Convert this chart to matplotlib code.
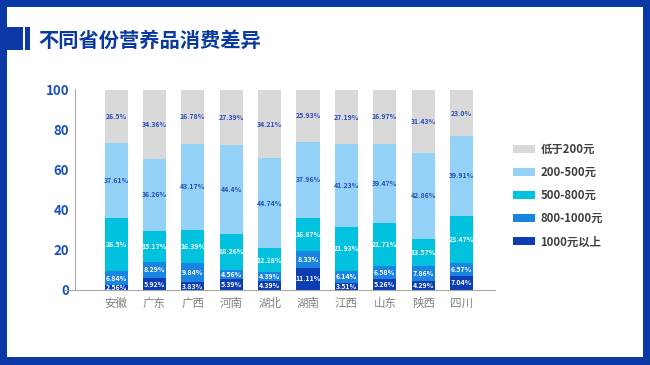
"""
Stacked percentage bars: consumption differences by province
"""

import matplotlib

matplotlib.use("Agg")
import matplotlib.pyplot as plt
from matplotlib.patches import Rectangle
import numpy as np

plt.rcParams["font.family"] = ["Noto Sans CJK SC", "DejaVu Sans"]

provinces = ["安徽", "广东", "广西", "河南", "湖北", "湖南", "江西", "山东", "陕西", "四川"]

# bottom to top
above_1000 = [2.56, 5.92, 3.83, 5.39, 4.39, 11.11, 3.51, 5.26, 4.29, 7.04]
from_800_1000 = [6.84, 8.29, 9.84, 4.56, 4.39, 8.33, 6.14, 6.58, 7.86, 6.57]
from_500_800 = [26.5, 15.17, 16.39, 18.26, 12.28, 16.67, 21.93, 21.71, 13.57, 23.47]
from_200_500 = [37.61, 36.26, 43.17, 44.4, 44.74, 37.96, 41.23, 39.47, 42.86, 39.91]
below_200 = [26.5, 34.36, 26.78, 27.39, 34.21, 25.93, 27.19, 26.97, 31.43, 23.0]

series_names = ["1000元以上", "800-1000元", "500-800元", "200-500元", "低于200元"]
series_values = [above_1000, from_800_1000, from_500_800, from_200_500, below_200]
series_colors = ["#0b3db3", "#1a84e2", "#00c2df", "#93d1f6", "#d9d9d9"]
label_colors = ["white", "white", "white", "#2a4db5", "#2a4db5"]

y_ticks = [0, 20, 40, 60, 80, 100]

BORDER = "#0a39a6"
TITLE = "#0b3a9e"
TICK_BLUE = "#1a4fc0"


def draw_frame(fig):
    W, H = 650, 365
    rects = [
        (0, H - 7, W, 7),  # top
        (0, 0, W, 8),  # bottom
        (0, 0, 7, H),  # left
        (643, 0, 7, H),  # right
        (0, H - 50, 23, 23),  # title block
        (25, H - 50, 5, 23),  # title thin bar
    ]
    for x, y, w, h in rects:
        fig.patches.append(
            Rectangle((x / W, y / H), w / W, h / H, transform=fig.transFigure,
                      facecolor=BORDER, edgecolor="none", zorder=0)
        )
    fig.text(38 / W, 1 - 40 / H, "不同省份营养品消费差异", color=TITLE,
             fontsize=14.6, fontweight="bold", va="center", ha="left")


def main():
    fig = plt.figure(figsize=(6.5, 3.65), dpi=100)
    draw_frame(fig)

    ax = fig.add_axes([0.1, 0.2055, 0.6615, 0.5507])
    for side in ["top", "right"]:
        ax.spines[side].set_visible(False)
    ax.spines["left"].set_position(("data", -1.08))
    ax.spines["left"].set_color("#a6a6a6")
    ax.spines["bottom"].set_color("#a6a6a6")
    ax.set_facecolor("none")

    x = np.arange(len(provinces))
    bottom = np.zeros(len(provinces))
    for name, vals, color, lc in zip(series_names, series_values, series_colors, label_colors):
        vals = np.array(vals)
        ax.bar(x, vals, 0.6, bottom=bottom, color=color, label=name, zorder=2)
        for xi, b, v in zip(x, bottom, vals):
            ax.text(xi, b + v / 2, f"{v}%", ha="center", va="center",
                    fontsize=5, fontweight="bold", color=lc, zorder=3)
        bottom += vals

    ax.set_xlim(-1.33, 9.87)
    ax.set_ylim(0, 100.5)
    ax.set_xticks(x)
    ax.set_xticklabels(provinces)
    ax.set_yticks(y_ticks)
    ax.set_yticklabels([str(t) for t in y_ticks])
    ax.tick_params(axis="both", length=0)
    ax.tick_params(axis="x", pad=5, labelcolor="#808080", labelsize=8.3)
    ax.tick_params(axis="y", pad=4, labelcolor=TICK_BLUE, labelsize=9.5)
    for t in ax.get_yticklabels():
        t.set_fontweight("bold")

    handles, labels = ax.get_legend_handles_labels()
    leg = fig.legend(
        handles[::-1], labels[::-1],
        loc="upper left", bbox_to_anchor=(503 / 650, 1 - 133 / 365),
        frameon=False, fontsize=8.2, handlelength=1.9, handleheight=0.7,
        labelspacing=0.88, handletextpad=0.5,
    )
    for t in leg.get_texts():
        t.set_color("#404040")
        t.set_fontweight("bold")

    fig.savefig("out.png", dpi=100)
    plt.close(fig)


if __name__ == "__main__":
    main()
